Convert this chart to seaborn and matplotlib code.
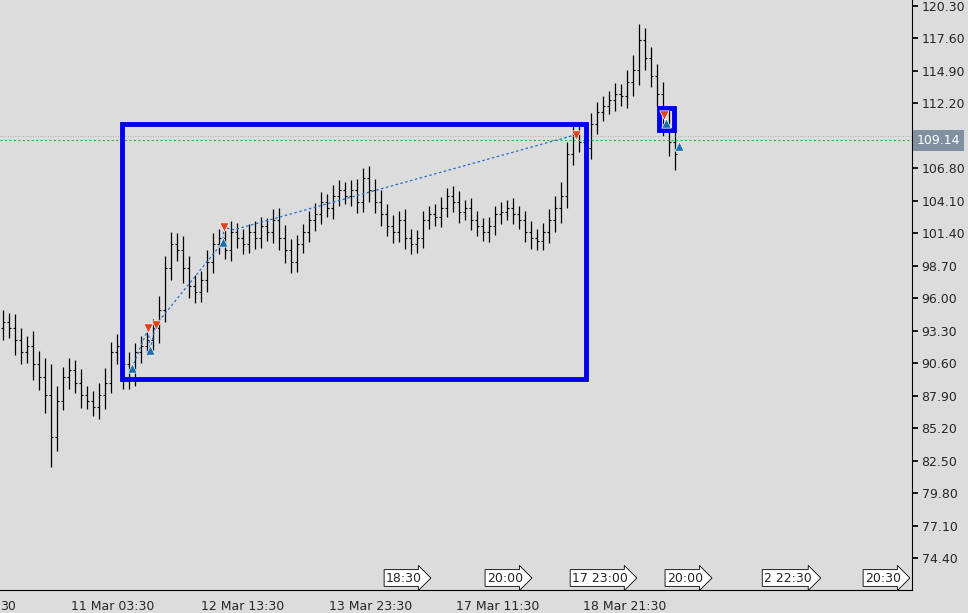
import matplotlib
matplotlib.use("Agg")
import matplotlib.pyplot as plt
import seaborn as sns
import pandas as pd

# closes per bar
closes = [94.0, 93.5, 92.5, 91.5, 92.0, 90.5, 89.5, 88.0, 84.5, 87.5,
          89.5, 90.0, 89.0, 88.0, 87.5, 87.0, 88.0, 89.0, 91.5, 92.0,
          90.5, 89.5, 91.5, 92.0, 92.5, 93.5, 95.0, 98.5, 100.5, 100.0,
          98.5, 97.0, 96.5, 97.5, 99.0, 100.5, 101.0, 100.0, 101.5, 101.0,
          100.5, 101.5, 101.0, 102.0, 101.5, 102.5, 101.0, 100.0, 99.0, 100.5,
          101.5, 102.5, 103.0, 104.0, 103.5, 104.5, 105.0, 104.5, 105.0, 104.0,
          106.0, 105.0, 104.0, 103.0, 102.0, 101.5, 102.5, 101.0, 100.5, 101.0,
          102.5, 103.0, 102.8, 103.5, 104.5, 104.0, 103.2, 103.5, 102.5, 102.0,
          101.5, 102.0, 103.0, 103.2, 103.5, 103.0, 102.5, 101.5, 101.0, 100.8,
          101.5, 102.5, 103.5, 104.5, 108.0, 109.5, 109.0, 108.5, 110.5, 111.5,
          112.0, 112.5, 113.0, 112.8, 114.0, 115.0, 117.5, 116.0, 114.5, 113.0,
          110.5, 109.0, 108.0]
opens = [93.5] + closes[:-1]
wicks = [1.0, 0.8, 1.2, 1.0, 0.9, 1.3, 1.1, 1.5, 2.5, 1.2,
         0.8, 1.0, 0.9, 1.1, 0.7, 0.8, 1.0, 1.2, 0.9, 1.0,
         2.0, 1.0, 0.8, 0.9, 0.7, 0.8, 1.2, 1.0, 1.0, 0.9,
         1.2, 1.0, 0.9, 0.8, 1.0, 0.9, 0.8, 0.7, 0.9, 0.8,
         0.8, 0.7, 0.9, 0.8, 0.7, 0.9, 1.0, 1.1, 0.9, 0.8,
         0.7, 0.8, 0.9, 0.8, 0.7, 0.9, 0.8, 0.7, 0.8, 0.9,
         0.8, 1.0, 0.9, 1.0, 0.8, 0.9, 0.8, 0.9, 0.8, 0.7,
         0.8, 0.7, 0.8, 0.9, 0.7, 0.8, 0.9, 0.7, 0.8, 0.8,
         0.7, 0.8, 0.7, 0.8, 0.7, 0.8, 0.7, 0.8, 0.9, 0.8,
         0.8, 0.9, 1.0, 1.2, 1.0, 0.9, 0.8, 1.0, 0.9, 0.8,
         0.8, 0.7, 0.9, 0.8, 1.0, 1.2, 1.3, 1.0, 0.9, 1.0,
         1.0, 1.2, 1.3]

tick_prices = [74.40, 77.10, 79.80, 82.50, 85.20, 87.90, 90.60, 93.30, 96.00,
               98.70, 101.40, 104.10, 106.80, 109.50, 112.20, 114.90, 117.60, 120.30]
xtick_pos = [0.8, 18.3, 40.0, 61.3, 82.5, 103.7]
xtick_labels = ["30", "11 Mar 03:30", "12 Mar 13:30", "13 Mar 23:30", "17 Mar 11:30", "18 Mar 21:30"]

buy_x = [21.5, 24.5, 36.7, 110.5, 112.7]
buy_y = [90.2, 91.7, 100.7, 110.6, 108.7]
sell_x = [24.2, 25.5, 36.8, 95.5, 110.2]
sell_y = [93.5, 93.8, 101.9, 109.6, 111.2]
path_x = [21.5, 24.2, 24.5, 25.5, 36.7, 36.8, 38.5, 95.5]
path_y = [90.2, 93.5, 91.7, 93.8, 100.7, 101.9, 101.7, 109.6]

current_price = 109.14
bottom_tags = [(404, "18:30"), (505, "20:00"), (600, "17 23:00"), (685, "20:00"), (788, "2 22:30"), (883, "20:30")]

sns.set_theme(style="white")
plt.rcParams['font.family'] = ['DejaVu Sans']
bg = "#dcdcdc"
fig = plt.figure(figsize=(9.68, 6.13), dpi=100, facecolor=bg)
ax = fig.add_axes([0.0, 0.0375, 0.942, 0.9625])
ax.set_facecolor(bg)

n = len(closes)
idx = list(range(n))
highs = [max(o, c) + w for o, c, w in zip(opens, closes, wicks)]
lows = [min(o, c) - w for o, c, w in zip(opens, closes, wicks)]
ax.vlines(idx, lows, highs, color="black", lw=0.9)
ax.hlines(opens, [i - 0.35 for i in idx], idx, color="black", lw=0.8)
ax.hlines(closes, idx, [i + 0.35 for i in idx], color="black", lw=0.8)

# rectangles
ax.add_patch(plt.Rectangle((19.8, 89.3), 97.2 - 19.8, 110.5 - 89.3, fill=False, ec="#0000ee", lw=3.5, zorder=4))
ax.add_patch(plt.Rectangle((109.3, 110.0), 2.6, 1.8, fill=False, ec="#0000ee", lw=3.5, zorder=4))

ax.plot(path_x, path_y, ls=(0, (2, 2)), color="#1f6fd0", lw=0.9, zorder=3)
df_b = pd.DataFrame({"x": buy_x, "y": buy_y})
df_s = pd.DataFrame({"x": sell_x, "y": sell_y})
sns.scatterplot(data=df_b, x="x", y="y", marker="^", s=45, color="#1a6faf", edgecolor="white", linewidth=0.5, ax=ax, zorder=5)
sns.scatterplot(data=df_s, x="x", y="y", marker="v", s=45, color="#e0401a", edgecolor="white", linewidth=0.5, ax=ax, zorder=5)

ax.axhline(current_price, color="#40b040", ls=(0, (2, 2)), lw=0.8)
ax.axhline(109.5, color="#a0a0a0", ls=(0, (1, 2)), lw=0.6)

ax.set_xlim(-0.5, 151.5)
ax.set_ylim(71.75, 120.8)
ax.yaxis.tick_right()
ax.set_yticks(tick_prices)
ax.set_yticklabels([f"{t:.2f}" for t in tick_prices], fontsize=9)
ax.set_xticks(xtick_pos)
ax.set_xticklabels(xtick_labels, fontsize=9)
ax.tick_params(axis="both", length=4, color="black", direction="out", pad=3)
ax.set_xlabel("")
ax.set_ylabel("")
for s in ["top", "left"]:
    ax.spines[s].set_visible(False)
for s in ["right", "bottom"]:
    ax.spines[s].set_color("black")
    ax.spines[s].set_linewidth(0.8)

ax.text(1.005, (current_price - 71.75) / (120.8 - 71.75), f"{current_price:.2f}", transform=ax.transAxes,
        fontsize=9, color="white", va="center", ha="left", zorder=10,
        bbox=dict(boxstyle="square,pad=0.3", fc="#8090a0", ec="none"))

for px, lab in bottom_tags:
    fig.text(px / 968, 1 - 578 / 613, lab, fontsize=9, ha="center", va="center",
             bbox=dict(boxstyle="rarrow,pad=0.15", fc="white", ec="black", lw=0.6))

fig.savefig("out.png", dpi=100, facecolor=bg)
